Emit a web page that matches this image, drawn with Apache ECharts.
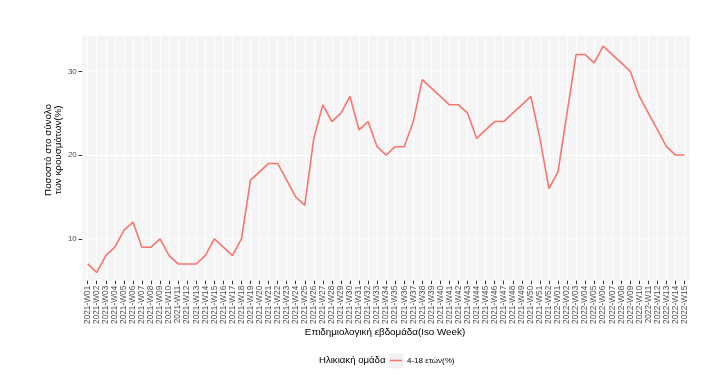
<!DOCTYPE html>
<html>
<head>
<meta charset="utf-8">
<script src="https://cdn.jsdelivr.net/npm/echarts@6/dist/echarts.min.js"></script>
<style>
html,body{margin:0;padding:0;background:#fff;}
#chart{width:726px;height:383px;}
</style>
</head>
<body>
<div id="chart"></div>
<script>
const weeks = [
  '2021-W01','2021-W02','2021-W03','2021-W04','2021-W05','2021-W06','2021-W07','2021-W08','2021-W09','2021-W10',
  '2021-W11','2021-W12','2021-W13','2021-W14','2021-W15','2021-W16','2021-W17','2021-W18','2021-W19','2021-W20',
  '2021-W21','2021-W22','2021-W23','2021-W24','2021-W25','2021-W26','2021-W27','2021-W28','2021-W29','2021-W30',
  '2021-W31','2021-W32','2021-W33','2021-W34','2021-W35','2021-W36','2021-W37','2021-W38','2021-W39','2021-W40',
  '2021-W41','2021-W42','2021-W43','2021-W44','2021-W45','2021-W46','2021-W47','2021-W48','2021-W49','2021-W50',
  '2021-W51','2021-W52',
  '2022-W01','2022-W02','2022-W03','2022-W04','2022-W05','2022-W06','2022-W07','2022-W08','2022-W09','2022-W10',
  '2022-W11','2022-W12','2022-W13','2022-W14','2022-W15'
];
const pct4to18 = [
  7,6,8,9,11,12,9,9,10,8,
  7,7,7,8,10,9,8,10,17,18,
  19,19,17,15,14,22,26,24,25,27,
  23,24,21,20,21,21,24,29,28,27,
  26,26,25,22,23,24,24,25,26,27,
  22,16,
  18,25,32,32,31,33,32,31,30,27,
  25,23,21,20,20
];
const yTickLabels = [10, 20, 30];
const seriesName = '4-18 ετών(%)';
const legendTitle = 'Ηλικιακή ομάδα';
const xTitle = 'Επιδημιολογική εβδομάδα(Iso Week)';
const yTitle = 'Ποσοστό στο σύνολο\nτων κρουσμάτων(%)';

const FONT = '"Liberation Sans", Arial, sans-serif';
const yMin = 5, yMax = 34.25;
const chart = echarts.init(document.getElementById('chart'), null, {renderer: 'canvas'});
chart.setOption({
  animation: false,
  backgroundColor: '#ffffff',
  textStyle: {fontFamily: FONT},
  grid: [
    {left: 82.3, right: 36, top: 35.7, bottom: 102.3, show: true, backgroundColor: '#F5F5F5', borderWidth: 0},
    {left: 87.7, right: 41.4, top: 35.7, bottom: 102.3, show: false}
  ],
  xAxis: [
    {gridIndex: 0, type: 'value', min: 0, max: 1, show: false},
    {
      gridIndex: 1, type: 'category', data: weeks, boundaryGap: false,
      axisLine: {show: false},
      axisTick: {show: true, length: 3.5, lineStyle: {color: '#333333', width: 1}},
      axisLabel: {interval: 0, rotate: 90, fontSize: 8.3, color: '#4D4D4D', margin: 5, fontFamily: FONT},
      splitLine: {show: true, lineStyle: {color: '#FFFFFF', width: 1}}
    }
  ],
  yAxis: [
    {
      gridIndex: 0, type: 'value', min: yMin, max: yMax, interval: 5,
      axisLine: {show: false},
      axisTick: {show: true, length: 3.7, customValues: yTickLabels, lineStyle: {color: '#333333', width: 1}},
      axisLabel: {show: true, customValues: yTickLabels, fontSize: 8, color: '#4D4D4D', margin: 5.5, fontFamily: FONT},
      splitLine: {show: true, lineStyle: {color: ['#FAFAFA', '#FFFFFF'], width: 1}}
    },
    {gridIndex: 1, type: 'value', min: yMin, max: yMax, show: false, splitLine: {show: false}}
  ],
  title: [
    {text: xTitle, left: 385, top: 327, textAlign: 'center', padding: 0,
     textStyle: {fontSize: 9.8, fontWeight: 'normal', color: '#000000', fontFamily: FONT}},
    {text: legendTitle, left: 319, top: 355.8, padding: 0,
     textStyle: {fontSize: 9.6, fontWeight: 'normal', color: '#000000', fontFamily: FONT}}
  ],
  legend: {
    left: 390, top: 356.5, padding: 0,
    itemWidth: 12, itemHeight: 1.6, itemGap: 5,
    icon: 'rect',
    textStyle: {fontSize: 8, color: '#000000', fontFamily: FONT},
    data: [seriesName]
  },
  graphic: [
    {type: 'rect', z: 1, silent: true, shape: {x: 388.5, y: 353.5, width: 15, height: 15}, style: {fill: '#F2F2F2'}},
    {type: 'text', silent: true, x: 53, y: 150, rotation: Math.PI / 2,
     style: {text: yTitle, font: '9.8px ' + FONT, fill: '#000000', align: 'center', verticalAlign: 'middle', lineHeight: 10}}
  ],
  series: [{
    name: seriesName, type: 'line', xAxisIndex: 1, yAxisIndex: 1,
    data: pct4to18, showSymbol: false, symbol: 'none',
    lineStyle: {color: '#F8766D', width: 1.6},
    itemStyle: {color: '#F8766D'}
  }]
});
</script>
</body>
</html>
